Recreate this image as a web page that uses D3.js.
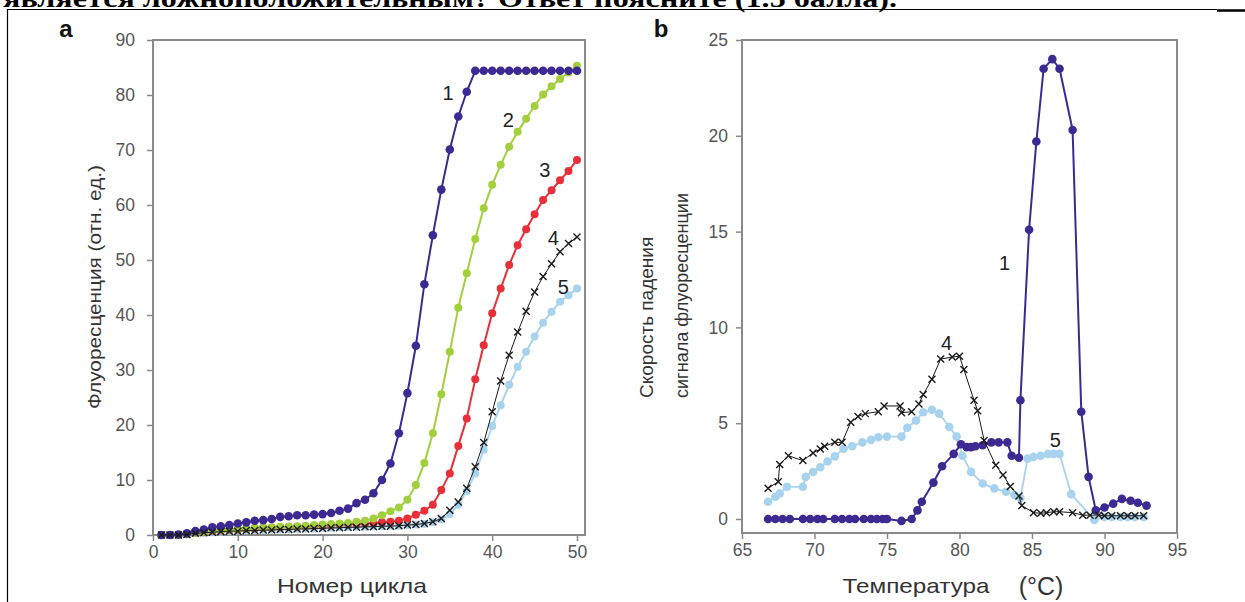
<!DOCTYPE html>
<html>
<head>
<meta charset="utf-8">
<script src="https://d3js.org/d3.v7.min.js"></script>
<style>
  body { margin: 0; background: #fff; }
  svg { display: block; font-family: "Liberation Sans", Arial, sans-serif; }
</style>
</head>
<body>
<div id="chart"></div>
<script>
// ---- panel a: amplification curves (fluorescence vs cycle) ----
const cycles = [1,2,3,4,5,6,7,8,9,10,11,12,13,14,15,16,17,18,19,20,21,22,23,24,25,
  26,27,28,29,30,31,32,33,34,35,36,37,38,39,40,41,42,43,44,45,46,47,48,49,50];
const amp1 = [0,0,0.1,0.3,0.7,1.0,1.4,1.6,1.8,2.1, 2.3,2.6,2.7,2.9,3.3,3.4,3.6,3.6,3.7,3.8,
  4.0,4.4,4.8,5.8,6.4,7.6,10.0,13.0,18.5,25.8, 34.4,45.6,54.5,62.8,70.1,76.1,80.6,84.4,84.4,84.4,
  84.4,84.4,84.4,84.4,84.4,84.4,84.4,84.4,84.4,84.4];
const amp2 = [0,0,0,0.2,0.4,0.6,0.8,0.9,1.0,1.1, 1.2,1.3,1.3,1.4,1.5,1.5,1.6,1.7,1.8,1.9,
  2.0,2.1,2.2,2.4,2.6,3.0,3.6,4.3,5.0,6.4, 9.1,13.1,18.5,25.6,33.3,41.3,47.6,53.8,59.4,63.7,
  67.3,70.6,73.3,75.7,78.0,80.1,81.6,82.9,84.1,85.3];
const amp3 = [0,0,0,0.2,0.4,0.5,0.7,0.8,0.9,1.0, 1.1,1.2,1.3,1.3,1.4,1.5,1.5,1.6,1.7,1.7,
  1.8,1.9,2.0,2.0,2.1,2.2,2.3,2.4,2.6,3.0, 3.7,4.4,5.5,8.2,11.2,16.2,21.2,28.3,34.5,40.3,
  44.8,49.1,52.7,55.6,58.3,60.9,62.7,64.5,66.2,68.2];
const amp4 = [0,0,0,0.1,0.3,0.4,0.5,0.6,0.7,0.7, 0.8,0.8,0.9,0.9,1.0,1.0,1.1,1.1,1.2,1.2,
  1.3,1.3,1.4,1.4,1.5,1.5,1.6,1.6,1.7,1.8, 1.9,2.1,2.4,3.0,4.5,6.0,8.5,12.4,16.8,22.4,
  28.0,32.7,36.9,40.7,44.2,47.0,49.3,51.5,53.0,54.2];
const amp5 = [0,0,0,0.1,0.3,0.4,0.5,0.6,0.7,0.8, 0.8,0.9,0.9,1.0,1.0,1.1,1.1,1.2,1.2,1.3,
  1.3,1.4,1.4,1.5,1.5,1.6,1.6,1.7,1.7,1.8, 1.9,2.0,2.3,2.8,3.8,5.5,8.0,11.2,15.5,19.8,
  23.6,27.3,30.6,33.3,36.1,38.6,40.6,42.4,43.6,44.8];
const cycleTicks = [0,10,20,30,40,50];
const ampTicks = [0,10,20,30,40,50,60,70,80,90];

// ---- panel b: melting curves (-dF/dT vs temperature) ----
const temp1 = [66.8,67.3,67.8,68.3,69.2,69.7,70.2,70.6,71.4,71.9,72.4,72.8,73.4,73.9,74.3,74.7,75.0,
  76.0,76.7,77.1,77.4,78.2,78.8,79.6,80.1,80.5,80.8,81.1,81.6,82.2,82.7,83.3,83.6,84.1,
  84.2,84.8,85.3,85.8,86.4,86.9,87.8,88.4,88.9,89.4,90.0,90.6,91.2,91.8,92.3,92.9];
const melt1 = [0,0,0,0,0,0,0,0,0,0,0,0,0,0,0,0,0,
  -0.1,0,0.45,0.9,1.9,2.75,3.4,3.9,3.75,3.75,3.8,3.85,4.0,4.0,4.0,3.3,3.2,
  6.2,15.1,19.7,23.5,24.0,23.5,20.3,5.6,2.2,0.45,0.6,0.8,1.05,0.95,0.85,0.7];
const temp4 = [66.8,67.5,67.6,68.2,69.2,69.9,70.4,70.7,71.4,71.9,72.5,73.0,73.5,74.4,74.8,75.9,
  76.0,76.7,77.2,77.5,78.1,78.7,79.5,80.0,80.3,81.0,81.25,81.7,82.5,83.0,83.5,84.1,84.3,
  85.1,85.6,86.0,86.5,86.9,87.8,88.5,89.0,89.6,90.0,90.5,91.1,91.6,92.1,92.7];
const melt4 = [1.6,1.95,2.85,3.3,3.05,3.45,3.65,3.8,4.0,4.0,5.05,5.35,5.5,5.6,5.9,5.9,
  5.55,5.6,6.0,6.5,7.3,8.35,8.45,8.5,7.8,6.2,5.65,4.1,2.8,2.3,1.7,1.2,0.7,
  0.33,0.3,0.33,0.38,0.38,0.33,0.2,0.2,0.2,0.17,0.17,0.17,0.17,0.17,0.17];
const temp5 = [66.8,67.3,67.6,68.1,69.2,69.4,69.9,70.4,70.9,71.4,72.0,72.6,73.3,73.9,74.4,75.0,
  76.0,76.4,77.0,77.5,78.1,78.6,79.3,79.8,80.2,80.8,81.6,82.4,83.2,83.8,84.2,
  84.7,85.1,85.6,86.1,86.5,86.9,87.7,89.3,90.0,90.5,91.1,91.6,92.1,92.7];
const melt5 = [0.9,1.16,1.33,1.68,1.68,2.2,2.45,2.7,3.0,3.27,3.67,3.8,4.0,4.13,4.27,4.3,
  4.3,4.76,5.14,5.57,5.7,5.5,4.8,4.3,3.3,2.46,1.85,1.6,1.42,1.25,1.1,
  3.15,3.24,3.3,3.4,3.4,3.4,1.3,-0.05,0.1,0.1,0.1,0.1,0.1,0.1];
const tempTicks = [65,70,75,80,85,90,95];
const meltTicks = [0,5,10,15,20,25];

const COL = { c1: "#3c2a92", c2: "#a2d03c", c3: "#e8303a", c4: "#1a1a1a", c5: "#a8d3ef" };

const W = 1245, H = 602;
const svg = d3.select("#chart").append("svg").attr("width", W).attr("height", H);
svg.append("rect").attr("width", W).attr("height", H).attr("fill", "#fff");

// cropped heading of the page + table frame (cut at the top edge, as in the source)
svg.append("text")
  .attr("x", 3).attr("y", 7)
  .attr("font-family", "'Liberation Serif', 'Times New Roman', serif")
  .attr("font-weight", "bold").attr("font-size", 26)
  .attr("textLength", 894).attr("lengthAdjust", "spacingAndGlyphs")
  .attr("fill", "#000")
  .text("является ложноположительным? Ответ поясните (1.5 балла).");
svg.append("line").attr("x1", 7).attr("x2", 1217).attr("y1", 9.5).attr("y2", 9.5)
  .attr("stroke", "#000").attr("stroke-width", 1.2);
svg.append("line").attr("x1", 1217).attr("x2", 1245).attr("y1", 10.5).attr("y2", 10.5)
  .attr("stroke", "#000").attr("stroke-width", 2.5);
svg.append("line").attr("x1", 7.5).attr("x2", 7.5).attr("y1", 9).attr("y2", H)
  .attr("stroke", "#000").attr("stroke-width", 1.2);

function styleAxis(g) {
  g.select(".domain").remove();
  g.selectAll(".tick line").attr("stroke", "#8a8a8a").attr("stroke-width", 1.5);
  g.selectAll(".tick text").attr("fill", "#555").attr("font-size", 17.5)
    .attr("font-family", "'Liberation Sans', Arial, sans-serif");
}

function drawSeries(g, xs, ys, x, y, color, width, marker, r) {
  const pts = xs.map((d, i) => [d, ys[i]]);
  const line = d3.line().x(d => x(d[0])).y(d => y(d[1]));
  g.append("path").datum(pts).attr("d", line)
    .attr("fill", "none").attr("stroke", color).attr("stroke-width", width)
    .attr("stroke-linejoin", "round");
  if (marker === "x") {
    g.selectAll(null).data(pts).enter().append("path")
      .attr("transform", d => "translate(" + x(d[0]) + "," + y(d[1]) + ")")
      .attr("d", `M${-r},${-r}L${r},${r}M${-r},${r}L${r},${-r}`)
      .attr("stroke", color).attr("stroke-width", 1.4).attr("fill", "none");
  } else {
    g.selectAll(null).data(pts).enter().append("circle")
      .attr("cx", d => x(d[0])).attr("cy", d => y(d[1])).attr("r", r)
      .attr("fill", color);
  }
}

// ================= panel a =================
const xA = d3.scaleLinear().domain([0, 50]).range([153, 577]);
const yA = d3.scaleLinear().domain([0, 90]).range([535, 40]);
const gA = svg.append("g");

gA.append("g").attr("transform", "translate(0," + yA(0) + ")")
  .call(d3.axisBottom(xA).tickValues(cycleTicks).tickSize(6).tickPadding(5))
  .call(styleAxis);
gA.append("g").attr("transform", "translate(" + xA(0) + ",0)")
  .call(d3.axisLeft(yA).tickValues(ampTicks).tickSize(6).tickPadding(12))
  .call(styleAxis);
gA.append("rect")
  .attr("x", xA(0)).attr("y", yA(90))
  .attr("width", xA(50) + 8 - xA(0)).attr("height", yA(0) - yA(90))
  .attr("fill", "none").attr("stroke", "#8a8a8a").attr("stroke-width", 2);

drawSeries(gA, cycles, amp5, xA, yA, COL.c5, 2, "o", 4);
drawSeries(gA, cycles, amp3, xA, yA, COL.c3, 2, "o", 4);
drawSeries(gA, cycles, amp2, xA, yA, COL.c2, 2, "o", 4);
drawSeries(gA, cycles, amp1, xA, yA, COL.c1, 2, "o", 4.3);
drawSeries(gA, cycles, amp4, xA, yA, COL.c4, 1, "x", 3.5);

[["1", 34.8, 79.1], ["2", 41.9, 74.2], ["3", 46.2, 65.1], ["4", 47.2, 52.7], ["5", 48.4, 43.8]]
  .forEach(l => gA.append("text").attr("x", xA(l[1])).attr("y", yA(l[2]))
    .attr("text-anchor", "middle").attr("font-size", 20).attr("fill", "#222").text(l[0]));

gA.append("text").attr("transform", "translate(101,287) rotate(-90)")
  .attr("text-anchor", "middle").attr("font-size", 19).attr("fill", "#333")
  .attr("textLength", 244).attr("lengthAdjust", "spacingAndGlyphs")
  .text("Флуоресценция (отн. ед.)");
gA.append("text").attr("x", 352).attr("y", 593)
  .attr("text-anchor", "middle").attr("font-size", 21).attr("fill", "#333")
  .attr("textLength", 150).attr("lengthAdjust", "spacingAndGlyphs")
  .text("Номер цикла");
gA.append("text").attr("x", 66).attr("y", 37)
  .attr("text-anchor", "middle").attr("font-size", 24).attr("font-weight", "bold")
  .attr("fill", "#111").text("a");

// ================= panel b =================
const xB = d3.scaleLinear().domain([65, 95]).range([742, 1177]);
const yB = d3.scaleLinear().domain([0, 25]).range([519, 40]);
const gB = svg.append("g");
const bottomB = 533;

gB.append("g").attr("transform", "translate(0," + bottomB + ")")
  .call(d3.axisBottom(xB).tickValues(tempTicks).tickSize(6).tickPadding(5))
  .call(styleAxis);
gB.append("g").attr("transform", "translate(" + xB(65) + ",0)")
  .call(d3.axisLeft(yB).tickValues(meltTicks).tickSize(6).tickPadding(8))
  .call(styleAxis);
gB.append("rect")
  .attr("x", xB(65)).attr("y", yB(25))
  .attr("width", xB(95) - xB(65)).attr("height", bottomB - yB(25))
  .attr("fill", "none").attr("stroke", "#8a8a8a").attr("stroke-width", 2);

drawSeries(gB, temp5, melt5, xB, yB, COL.c5, 1.8, "o", 4.3);
drawSeries(gB, temp1, melt1, xB, yB, COL.c1, 2, "o", 4.3);
drawSeries(gB, temp4, melt4, xB, yB, COL.c4, 1, "x", 3.5);

[["1", 83.1, 13.0], ["4", 79.1, 8.8], ["5", 86.6, 3.75]]
  .forEach(l => gB.append("text").attr("x", xB(l[1])).attr("y", yB(l[2]))
    .attr("text-anchor", "middle").attr("font-size", 20).attr("fill", "#222").text(l[0]));

gB.append("text").attr("transform", "translate(653,398) rotate(-90)")
  .attr("text-anchor", "start").attr("font-size", 19).attr("fill", "#333")
  .text("Скорость падения");
gB.append("text").attr("transform", "translate(688,398) rotate(-90)")
  .attr("text-anchor", "start").attr("font-size", 19).attr("fill", "#333")
  .attr("textLength", 205).attr("lengthAdjust", "spacingAndGlyphs")
  .text("сигнала флуоресценции");
gB.append("text").attr("x", 916).attr("y", 593)
  .attr("text-anchor", "middle").attr("font-size", 21).attr("fill", "#333")
  .attr("textLength", 147).attr("lengthAdjust", "spacingAndGlyphs")
  .text("Температура");
gB.append("text").attr("x", 1041).attr("y", 595)
  .attr("text-anchor", "middle").attr("font-size", 25).attr("fill", "#333")
  .text("(°C)");
gB.append("text").attr("x", 661).attr("y", 37)
  .attr("text-anchor", "middle").attr("font-size", 24).attr("font-weight", "bold")
  .attr("fill", "#111").text("b");
</script>
</body>
</html>
